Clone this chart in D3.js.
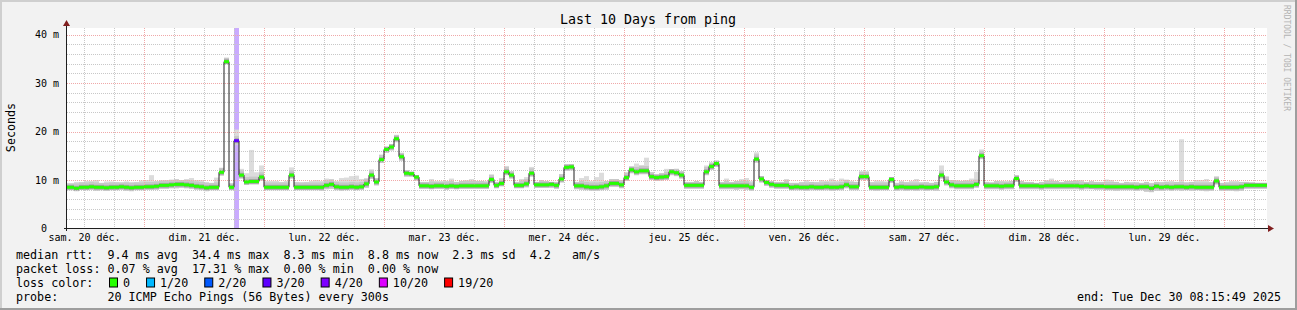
<!DOCTYPE html>
<html>
<head>
<meta charset="utf-8">
<script src="https://cdn.jsdelivr.net/npm/d3@7/dist/d3.min.js"></script>
<style>
  body { margin: 0; background: #f2f2f2; }
  text { font-family: "DejaVu Sans Mono", monospace; white-space: pre; fill: #000; }
</style>
</head>
<body>
<div id="main"></div>
<script>
// hourly steps (1h consolidation), first step = Sat Dec 20 08:00
const firstStep = new Date(2025, 11, 20, 8, 0);

// median rtt (ms) per hour
const median = [
  8.5,8.5,8.3,8.5,8.5,8.6,8.5,8.5,8.4,8.5,8.5,8.6,8.5,8.4,8.5,8.5,
  8.6,8.6,8.7,8.9,8.9,9.0,9.1,9.1,9.0,8.9,8.7,8.6,8.4,8.5,8.5,11.6,34.4,8.5,18.1,11.0,9.6,9.7,9.7,10.6,
  8.5,8.5,8.5,8.5,8.5,11.0,8.5,8.5,8.5,8.5,8.5,8.5,8.9,9.1,8.6,8.5,8.5,8.6,8.5,8.6,9.2,11.0,9.6,14.2,
  16.3,16.8,18.5,14.8,11.4,11.3,10.6,8.8,8.8,8.7,8.8,8.8,8.7,8.8,8.7,8.8,8.8,8.8,8.8,8.8,8.8,10.1,8.9,9.3,
  11.7,11.0,8.9,8.9,9.2,11.4,9.0,9.0,9.0,9.1,8.9,10.2,12.6,12.7,8.8,8.8,8.6,8.5,8.5,8.6,8.8,9.3,9.3,9.0,
  10.5,12.1,11.7,11.9,11.9,10.7,10.5,10.6,10.7,11.7,11.5,11.0,8.9,8.9,8.9,8.9,11.7,12.8,13.4,8.8,8.8,8.8,8.8,8.8,
  8.8,8.5,14.3,10.2,9.5,9.1,8.9,8.9,8.9,8.5,8.6,8.5,8.5,8.6,8.5,8.5,8.6,8.5,8.5,8.6,9.0,8.6,8.6,10.7,
  10.7,8.5,8.5,8.5,8.5,10.1,8.5,8.6,8.5,8.5,8.5,8.6,8.5,8.5,8.6,11.0,9.6,9.0,8.8,8.8,8.8,8.8,9.1,15.0,
  8.8,8.8,8.8,8.7,8.8,8.8,10.3,8.8,8.8,8.8,8.8,8.7,8.8,8.8,8.8,8.8,8.8,8.8,8.8,8.7,8.8,8.7,8.7,8.7,
  8.6,8.6,8.6,8.6,8.6,8.6,8.5,8.6,8.6,8.3,8.7,8.5,8.6,8.5,8.6,8.6,8.5,8.6,8.5,8.5,8.5,8.5,9.8,8.5,
  8.5,8.5,8.5,8.6,8.9,8.9,8.9,8.9,8.9
];

// smoke: highest and lowest of the 20 pings per hour (ms)
const smokeHi = [
  9.3,9.3,9.6,9.6,9.8,9.8,10.0,9.4,9.7,9.7,9.6,9.5,9.7,9.6,9.6,9.9,
  10.0,11.0,9.8,9.9,10.0,10.1,10.2,10.0,10.2,10.4,10.0,10.0,9.6,9.4,10.5,12.5,35.2,9.3,20.4,12.3,11.4,16.2,11.6,13.0,
  9.8,9.8,9.8,9.6,9.8,12.6,9.6,9.5,9.6,9.8,10.0,9.8,10.3,10.2,9.8,10.4,10.5,10.8,10.9,10.2,10.4,12.2,10.4,15.2,
  16.9,17.4,19.3,15.6,12.0,11.7,11.0,9.6,9.6,10.2,9.7,9.7,9.8,10.3,9.6,9.8,10.0,10.2,9.8,9.8,9.7,11.1,9.6,10.4,
  12.9,11.8,9.6,10.2,10.6,12.7,9.6,10.0,9.8,9.6,9.6,11.2,13.3,13.2,9.6,10.4,10.8,9.8,10.6,11.5,9.8,10.2,10.2,10.0,
  11.6,12.8,13.4,13.1,14.6,11.6,11.2,11.4,12.3,12.2,12.3,11.8,9.6,9.6,9.8,9.6,13.0,13.6,14.0,9.6,10.3,9.6,9.8,10.2,
  10.4,9.8,15.7,10.8,10.0,9.8,9.6,9.6,10.2,9.4,9.4,9.6,10.0,9.6,9.6,10.0,9.8,10.3,9.8,10.3,10.1,9.8,9.6,11.8,
  11.8,9.6,9.9,9.8,9.7,10.6,9.4,9.8,9.6,9.8,10.2,9.5,9.6,9.4,9.6,13.0,10.8,10.0,10.0,9.8,10.0,10.3,11.7,16.3,
  9.6,9.5,9.8,9.8,9.7,9.8,11.0,9.8,9.6,9.6,9.4,9.6,10.0,10.3,9.8,9.6,9.8,9.8,10.0,10.0,9.6,9.8,9.6,9.6,
  10.1,10.0,9.6,9.4,9.6,9.5,9.5,9.4,9.6,9.4,9.6,9.6,9.7,9.8,9.6,18.4,9.5,9.6,10.0,10.0,10.2,9.6,10.7,9.4,
  9.5,9.8,9.8,9.6,9.6,9.5,9.4,9.4,9.4
];
const smokeLo = [
  7.9,7.9,7.7,8.0,7.9,8.0,7.8,7.9,7.8,7.9,7.9,8.0,7.8,7.7,7.9,7.9,
  8.0,8.0,8.0,8.2,8.2,8.3,8.3,8.4,8.3,8.2,8.0,7.9,7.7,7.9,7.9,10.9,33.9,7.9,17.3,10.3,9.0,9.1,9.1,9.9,
  7.9,7.9,7.9,7.9,7.9,10.3,7.9,7.9,7.9,7.9,7.9,7.8,8.1,8.2,7.9,7.8,7.9,8.0,7.9,8.0,8.4,10.2,8.9,13.5,
  15.6,16.1,17.8,14.0,10.7,10.7,9.9,8.2,8.2,8.1,8.2,8.2,8.0,8.2,8.1,8.2,8.2,8.2,8.2,8.2,8.2,9.4,8.3,8.7,
  11.0,10.3,8.3,8.3,8.5,10.7,8.4,8.4,8.4,8.4,8.2,9.5,11.9,12.0,8.1,8.0,7.9,7.8,7.8,7.9,8.0,8.6,8.6,8.3,
  9.8,11.4,11.0,11.2,11.2,10.0,9.8,9.9,10.0,11.0,10.8,10.3,8.2,8.2,8.2,8.2,11.0,12.1,12.7,8.1,8.1,8.1,8.0,8.1,
  8.0,7.8,13.6,9.5,8.8,8.4,8.2,8.2,8.2,7.9,7.9,7.9,7.8,7.9,7.9,7.9,7.9,7.8,7.9,7.9,8.3,7.9,7.9,10.0,
  10.0,7.9,7.8,7.9,7.9,9.4,7.8,7.9,7.8,7.9,7.8,7.9,7.8,7.9,7.8,10.3,8.9,8.3,8.1,8.1,8.1,8.1,8.4,14.3,
  8.1,8.1,8.1,8.0,8.1,8.1,9.6,8.1,8.1,8.1,8.1,8.0,8.1,8.1,8.1,8.1,8.1,8.1,8.1,8.0,8.1,8.1,8.0,8.0,
  7.9,7.9,7.8,7.9,7.9,7.9,7.8,7.9,7.6,7.5,7.8,7.8,7.9,7.8,7.9,7.8,7.9,7.8,7.9,7.8,7.7,7.8,9.1,7.8,
  7.8,7.8,7.7,7.8,8.2,8.2,8.2,8.2,8.2
];

// [step index, packet loss %]
const lossSteps = [[34, 17.31]];

const dayLabels = ["sam. 20 déc.", "dim. 21 déc.", "lun. 22 déc.", "mar. 23 déc.", "mer. 24 déc.",
                   "jeu. 25 déc.", "ven. 26 déc.", "sam. 27 déc.", "dim. 28 déc.", "lun. 29 déc."];
const yTicks = [0, 10, 20, 30, 40];

const lossLevels = [0, 1, 2, 3, 4, 10, 19];
const lossLabels = ["0", "1/20", "2/20", "3/20", "4/20", "10/20", "19/20"];
const lossColors = ["#26ff00", "#00b8ff", "#0059ff", "#5e00ff", "#7e00ff", "#dd00ff", "#ff0000"];

const legendRtt  = "median rtt:  9.4 ms avg  34.4 ms max  8.3 ms min  8.8 ms now  2.3 ms sd  4.2   am/s";
const legendLoss = "packet loss: 0.07 % avg  17.31 % max  0.00 % min  0.00 % now";
const legendProbe = "probe:       20 ICMP Echo Pings (56 Bytes) every 300s";
const legendEnd = "end: Tue Dec 30 08:15:49 2025";

const W = 1297, H = 310;
const plot = {left: 67, right: 1267, top: 28, bottom: 228};

const svg = d3.select("#main")
  .append("svg")
    .attr("width", W)
    .attr("height", H);

// background + 3d frame
svg.append("rect").attr("width", W).attr("height", H).attr("fill", "#f2f2f2");
svg.append("path").attr("d", `M0,${H} V0 H${W}`).attr("stroke", "#cfcfcf").attr("stroke-width", 4).attr("fill", "none");
svg.append("path").attr("d", `M0,${H} H${W} V0`).attr("stroke", "#9e9e9e").attr("stroke-width", 4).attr("fill", "none");

svg.append("rect")
  .attr("x", plot.left).attr("y", plot.top)
  .attr("width", plot.right - plot.left).attr("height", plot.bottom - plot.top)
  .attr("fill", "#fff");

const x = d3.scaleTime()
  .domain([new Date(2025, 11, 20, 8, 36), new Date(2025, 11, 30, 8, 36)])
  .range([plot.left, plot.right]);

const y = d3.scaleLinear().domain([0, 40]).range([228.5, 34.5]);

svg.append("clipPath").attr("id", "clip")
  .append("rect")
    .attr("x", plot.left).attr("y", plot.top)
    .attr("width", plot.right - plot.left).attr("height", plot.bottom - plot.top + 1);

const g = svg.append("g").attr("clip-path", "url(#clip)");

const stepT = i => d3.timeHour.offset(firstStep, i);
const x0 = i => x(stepT(i));
const x1 = i => x(stepT(i + 1));

function lossColor(pct) {
  const lost = pct * 20 / 100;
  let c = lossColors[0];
  lossLevels.forEach((l, k) => { if (lost >= l) c = lossColors[k]; });
  return c;
}
const lossAt = new Map(lossSteps.map(d => [d[0], d[1]]));

// loss background bar
g.selectAll(".lossbg")
  .data(lossSteps)
  .join("rect")
    .attr("x", d => x0(d[0]))
    .attr("width", d => x1(d[0]) - x0(d[0]))
    .attr("y", plot.top).attr("height", plot.bottom - plot.top)
    .attr("fill", d => lossColor(d[1]))
    .attr("fill-opacity", 0.33);

// smoke
const idx = d3.range(median.length);
g.selectAll(".smoke")
  .data(idx)
  .join("rect")
    .attr("x", i => x0(i))
    .attr("width", i => x1(i) - x0(i))
    .attr("y", i => y(smokeHi[i]))
    .attr("height", i => y(smokeLo[i]) - y(smokeHi[i]))
    .attr("fill", "#dcdcdc");

// denser part of the smoke around the median
[[1.0, "#c8c8c8"], [0.5, "#a4a4a4"]].forEach(([w, col]) => {
  g.selectAll(null)
    .data(idx)
    .join("rect")
      .attr("x", i => x0(i))
      .attr("width", i => x1(i) - x0(i))
      .attr("y", i => y(Math.min(smokeHi[i], median[i] + w)))
      .attr("height", i => y(Math.max(smokeLo[i], median[i] - w)) - y(Math.min(smokeHi[i], median[i] + w)))
      .attr("fill", col);
});

// grid (drawn over the data like rrdtool does)
const minorX = d3.timeHour.every(6).range(x.domain()[0], x.domain()[1]).filter(d => d.getHours() !== 0);
const majorX = d3.timeDay.range(x.domain()[0], x.domain()[1]);
const minorY = d3.range(2, 42, 2).filter(v => v % 10 !== 0 && y(v) > plot.top);
const majorY = yTicks.filter(v => v > 0);

const grid = svg.append("g").attr("stroke-dasharray", "1,1").attr("fill", "none");
grid.selectAll(".gx").data(minorX).join("line")
  .attr("x1", d => Math.round(x(d)) + 0.5).attr("x2", d => Math.round(x(d)) + 0.5)
  .attr("y1", plot.top).attr("y2", plot.bottom)
  .attr("stroke", "#c8c8c8");
grid.selectAll(".gy").data(minorY).join("line")
  .attr("x1", plot.left).attr("x2", plot.right)
  .attr("y1", d => Math.round(y(d)) + 0.5).attr("y2", d => Math.round(y(d)) + 0.5)
  .attr("stroke", "#c8c8c8");
grid.selectAll(".mx").data(majorX).join("line")
  .attr("x1", d => Math.round(x(d)) + 0.5).attr("x2", d => Math.round(x(d)) + 0.5)
  .attr("y1", plot.top).attr("y2", plot.bottom)
  .attr("stroke", "#f0a8a8");
grid.selectAll(".my").data(majorY).join("line")
  .attr("x1", plot.left).attr("x2", plot.right)
  .attr("y1", d => Math.round(y(d)) + 0.5).attr("y2", d => Math.round(y(d)) + 0.5)
  .attr("stroke", "#f0a8a8");

// median step line, then the coloured median marks
const g2 = svg.append("g").attr("clip-path", "url(#clip)");
const pts = idx.map(i => [x0(i), y(median[i])]);
pts.push([x1(median.length - 1), y(median[median.length - 1])]);
g2.append("path")
  .attr("d", d3.line().curve(d3.curveStepAfter)(pts))
  .attr("fill", "none")
  .attr("stroke", "#202020")
  .attr("stroke-width", 1);

g2.selectAll(".med")
  .data(idx)
  .join("rect")
    .attr("x", i => x0(i))
    .attr("width", i => x1(i) - x0(i))
    .attr("y", i => y(median[i]) - 1.5)
    .attr("height", 3)
    .attr("fill", i => lossAt.has(i) ? lossColor(lossAt.get(i)) : lossColors[0]);

// axes
svg.append("g")
  .attr("transform", `translate(0,${plot.bottom})`)
  .call(d3.axisBottom(x)
    .tickValues(dayLabels.map((d, i) => new Date(2025, 11, 20 + i, 12)))
    .tickFormat((d, i) => dayLabels[i])
    .tickSize(0).tickPadding(6))
  .call(s => s.select(".domain").remove())
  .selectAll("text").attr("font-size", 10).attr("font-family", "DejaVu Sans Mono");

svg.append("g")
  .attr("transform", `translate(${plot.left - 1},0)`)
  .call(d3.axisLeft(y)
    .tickValues(yTicks)
    .tickFormat(v => v === 0 ? "0  " : v + " m")
    .tickSize(0).tickPadding(7))
  .call(s => s.select(".domain").remove())
  .selectAll("text").attr("font-size", 10).attr("font-family", "DejaVu Sans Mono");

svg.append("line")
  .attr("x1", plot.left - 3).attr("x2", plot.right + 2)
  .attr("y1", plot.bottom + 0.5).attr("y2", plot.bottom + 0.5)
  .attr("stroke", "#1f1f1f");
svg.append("line")
  .attr("x1", plot.left - 0.5).attr("x2", plot.left - 0.5)
  .attr("y1", plot.bottom + 3).attr("y2", plot.top - 3)
  .attr("stroke", "#1f1f1f");
svg.append("path")
  .attr("d", `M${plot.right + 1},${plot.bottom - 3} L${plot.right + 7},${plot.bottom + 0.5} L${plot.right + 1},${plot.bottom + 4} Z`)
  .attr("fill", "#801f1f");
svg.append("path")
  .attr("d", `M${plot.left - 4},${plot.top - 2} L${plot.left - 0.5},${plot.top - 8} L${plot.left + 3},${plot.top - 2} Z`)
  .attr("fill", "#801f1f");

// titles
svg.append("text")
  .attr("x", 648).attr("y", 19)
  .attr("text-anchor", "middle").attr("dominant-baseline", "central")
  .attr("font-size", 13.3)
  .text("Last 10 Days from ping");

svg.append("text")
  .attr("transform", "translate(11,127.5) rotate(-90)")
  .attr("text-anchor", "middle").attr("dominant-baseline", "central")
  .attr("font-size", 11.7)
  .text("Seconds");

svg.append("text")
  .attr("transform", "translate(1284,5) rotate(90)")
  .attr("font-size", 8)
  .style("fill", "#b4b4b4")
  .text("RRDTOOL / TOBI OETIKER");

// legend
const rows = [254.5, 268.5, 282.5, 296.5];
const legend = svg.append("g").attr("font-size", 11.7).attr("dominant-baseline", "central");
legend.append("text").attr("x", 16).attr("y", rows[0]).text(legendRtt);
legend.append("text").attr("x", 16).attr("y", rows[1]).text(legendLoss);
legend.append("text").attr("x", 16).attr("y", rows[2]).text("loss color:");
legend.append("text").attr("x", 16).attr("y", rows[3]).text(legendProbe);
legend.append("text").attr("x", 1281).attr("y", rows[3]).attr("text-anchor", "end").text(legendEnd);

let lx = 109;
lossLabels.forEach((lab, k) => {
  legend.append("rect")
    .attr("x", lx + 0.5).attr("y", rows[2] - 4.5)
    .attr("width", 8).attr("height", 9)
    .attr("fill", lossColors[k]).attr("stroke", "#000");
  legend.append("text").attr("x", lx + 14).attr("y", rows[2]).text(lab);
  lx += 14 + lab.length * 7.05 + 16;
});
</script>
</body>
</html>
